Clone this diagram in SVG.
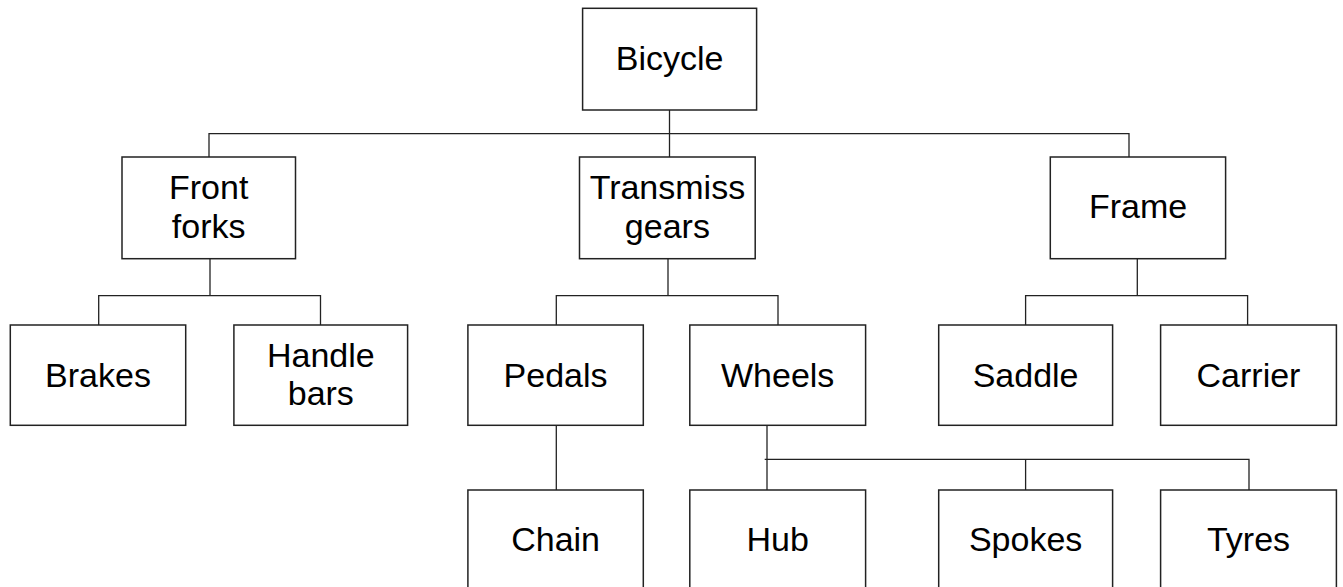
<svg xmlns="http://www.w3.org/2000/svg" width="1343" height="587" viewBox="0 0 1343 587">
<style>
.box{fill:#fff;stroke:#222;stroke-width:1.5}
.lbl{font-family:"Liberation Sans",Arial,sans-serif;font-size:34px;fill:#000;text-anchor:middle}
.con{fill:none;stroke:#222;stroke-width:1.3}
</style>
<rect width="1343" height="587" fill="#fff"/>
<g id="connectors" class="con">
<path d="M669.5,110V157"/>
<path d="M209,157V133.7H1129V157"/>
<path d="M210,258.7V295.7"/>
<path d="M98.7,325V295.7H320.5V325"/>
<path d="M668,258.7V295.7"/>
<path d="M556.3,325V295.7H778V325"/>
<path d="M1137.3,258.7V295.7"/>
<path d="M1025.6,325V295.7H1247.6V325"/>
<path d="M556.3,425.3V490"/>
<path d="M767,425.3V490"/>
<path d="M764.7,459.3H1249V490"/>
<path d="M1025.6,459.3V490"/>
</g>
<g id="bicycle"><rect class="box" x="582.6" y="8.3" width="174" height="101.7"/><text class="lbl" x="669.6" y="70">Bicycle</text></g>
<g id="front-forks"><rect class="box" x="122" y="157" width="173.5" height="101.7"/><text class="lbl" x="208.7" y="199">Front</text><text class="lbl" x="208.7" y="238">forks</text></g>
<g id="transmiss-gears"><rect class="box" x="579.5" y="157" width="175.7" height="101.7"/><text class="lbl" x="667.4" y="199">Transmiss</text><text class="lbl" x="667.4" y="238">gears</text></g>
<g id="frame"><rect class="box" x="1050.3" y="157" width="175.3" height="101.7"/><text class="lbl" x="1138" y="218.3">Frame</text></g>
<g id="brakes"><rect class="box" x="10.3" y="325" width="175.4" height="100.3"/><text class="lbl" x="98" y="386.7">Brakes</text></g>
<g id="handle-bars"><rect class="box" x="233.9" y="325" width="173.7" height="100.3"/><text class="lbl" x="320.8" y="367.3">Handle</text><text class="lbl" x="320.8" y="405">bars</text></g>
<g id="pedals"><rect class="box" x="467.9" y="325" width="175.4" height="100.3"/><text class="lbl" x="555.6" y="386.7">Pedals</text></g>
<g id="wheels"><rect class="box" x="689.8" y="325" width="175.8" height="100.3"/><text class="lbl" x="777.7" y="386.7">Wheels</text></g>
<g id="saddle"><rect class="box" x="938.7" y="325" width="173.9" height="100.3"/><text class="lbl" x="1025.6" y="386.7">Saddle</text></g>
<g id="carrier"><rect class="box" x="1160.6" y="325" width="175.8" height="100.3"/><text class="lbl" x="1248.5" y="386.7">Carrier</text></g>
<g id="chain"><rect class="box" x="467.9" y="490" width="175.4" height="120"/><text class="lbl" x="555.6" y="551">Chain</text></g>
<g id="hub"><rect class="box" x="689.8" y="490" width="175.8" height="120"/><text class="lbl" x="777.7" y="551">Hub</text></g>
<g id="spokes"><rect class="box" x="938.7" y="490" width="173.9" height="120"/><text class="lbl" x="1025.6" y="551">Spokes</text></g>
<g id="tyres"><rect class="box" x="1160.6" y="490" width="175.8" height="120"/><text class="lbl" x="1248.5" y="551">Tyres</text></g>
</svg>
